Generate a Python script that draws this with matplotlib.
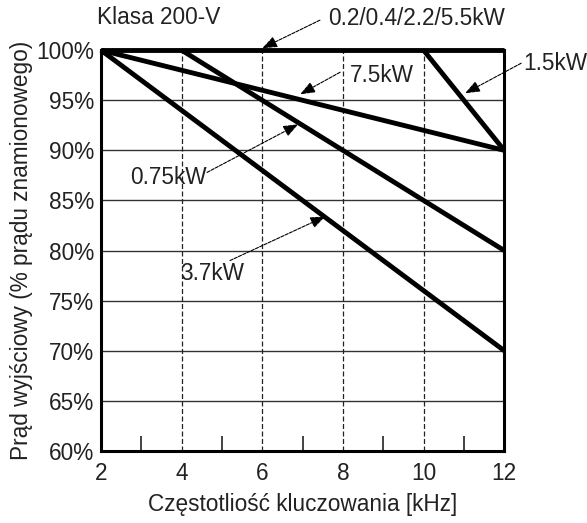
import matplotlib
matplotlib.use("Agg")
import matplotlib.pyplot as plt
from matplotlib.ticker import FixedLocator

plt.rcParams["font.family"] = ["Liberation Sans", "DejaVu Sans"]

# Derating curves: switching frequency [kHz] -> output current [% of rated]
freq_flat = [2, 12]
curr_flat = [100, 100]          # 0.2/0.4/2.2/5.5kW
freq_15 = [10, 12]
curr_15 = [100, 90]             # 1.5kW
freq_75 = [2, 12]
curr_75 = [100, 90]             # 7.5kW
freq_075 = [4, 12]
curr_075 = [100, 80]            # 0.75kW
freq_37 = [2, 12]
curr_37 = [100, 70]             # 3.7kW

x_ticks = [2, 4, 6, 8, 10, 12]
x_minor = [3, 5, 7, 9, 11]
y_ticks = [60, 65, 70, 75, 80, 85, 90, 95, 100]

FS = 16.3
INK = "#222222"

fig = plt.figure(figsize=(5.87, 5.23), dpi=100)
ax = fig.add_axes([0.172, 0.138, 0.687, 0.766])

ax.set_xlim(2, 12)
ax.set_ylim(60, 100)

# grid: solid horizontals, dashed verticals
for y in y_ticks[1:-1]:
    ax.axhline(y, color="#333333", linewidth=1.0, zorder=1)
for x in x_ticks[1:-1]:
    ax.axvline(x, color="#222222", linewidth=0.9, linestyle=(0, (4, 2)), zorder=1)

lw = 3.5
for fx, cy in [(freq_flat, curr_flat), (freq_15, curr_15), (freq_75, curr_75),
               (freq_075, curr_075), (freq_37, curr_37)]:
    ax.plot(fx, cy, color="black", linewidth=lw, solid_capstyle="butt",
            clip_on=False, zorder=3)

for s in ax.spines.values():
    s.set_linewidth(2.2)

ax.set_xticks(x_ticks)
ax.set_yticks(y_ticks)
ax.set_yticklabels([f"{v}%" for v in y_ticks])
ax.tick_params(axis="both", which="major", length=0, labelsize=FS, colors=INK)
ax.tick_params(axis="y", which="major", pad=5)
ax.tick_params(axis="x", which="major", pad=8)
ax.xaxis.set_minor_locator(FixedLocator(x_minor))
ax.tick_params(axis="x", which="minor", direction="in", length=11, width=1.2, color=INK)

ax.set_xlabel("Częstotliość kluczowania [kHz]", fontsize=FS, color=INK, labelpad=6)
ax.set_ylabel("Prąd wyjściowy (% prądu znamionowego)", fontsize=FS, color=INK, labelpad=2)

arrow = dict(arrowstyle="-|>,head_length=0.9,head_width=0.35", color="black",
             linewidth=0.8, linestyle=(0, (3, 1.2)), shrinkA=0, shrinkB=0)

# (label, arrow head, arrow tail, text anchor, horizontal alignment)
callouts = [
    ("0.2/0.4/2.2/5.5kW", (6.0, 100.2), (7.43, 103.0), (7.63, 103.2), "left"),
    ("7.5kW", (6.94, 95.6), (7.93, 97.8), (8.18, 97.5), "left"),
    ("1.5kW", (11.03, 95.7), (12.42, 98.7), (12.47, 98.7), "left"),
    ("0.75kW", (6.89, 92.6), (4.63, 87.8), (4.63, 87.3), "right"),
    ("3.7kW", (7.56, 83.4), (5.2, 79.0), (4.75, 77.7), "center"),
]
for label, head, tail, pos, ha in callouts:
    ax.annotate("", xy=head, xytext=tail, arrowprops=arrow, annotation_clip=False)
    ax.text(pos[0], pos[1], label, fontsize=FS, color=INK, ha=ha, va="center",
            clip_on=False)

ax.text(1.9, 103.3, "Klasa 200-V", fontsize=FS, color=INK,
        ha="left", va="center", clip_on=False)

fig.savefig("out.png", dpi=100)
